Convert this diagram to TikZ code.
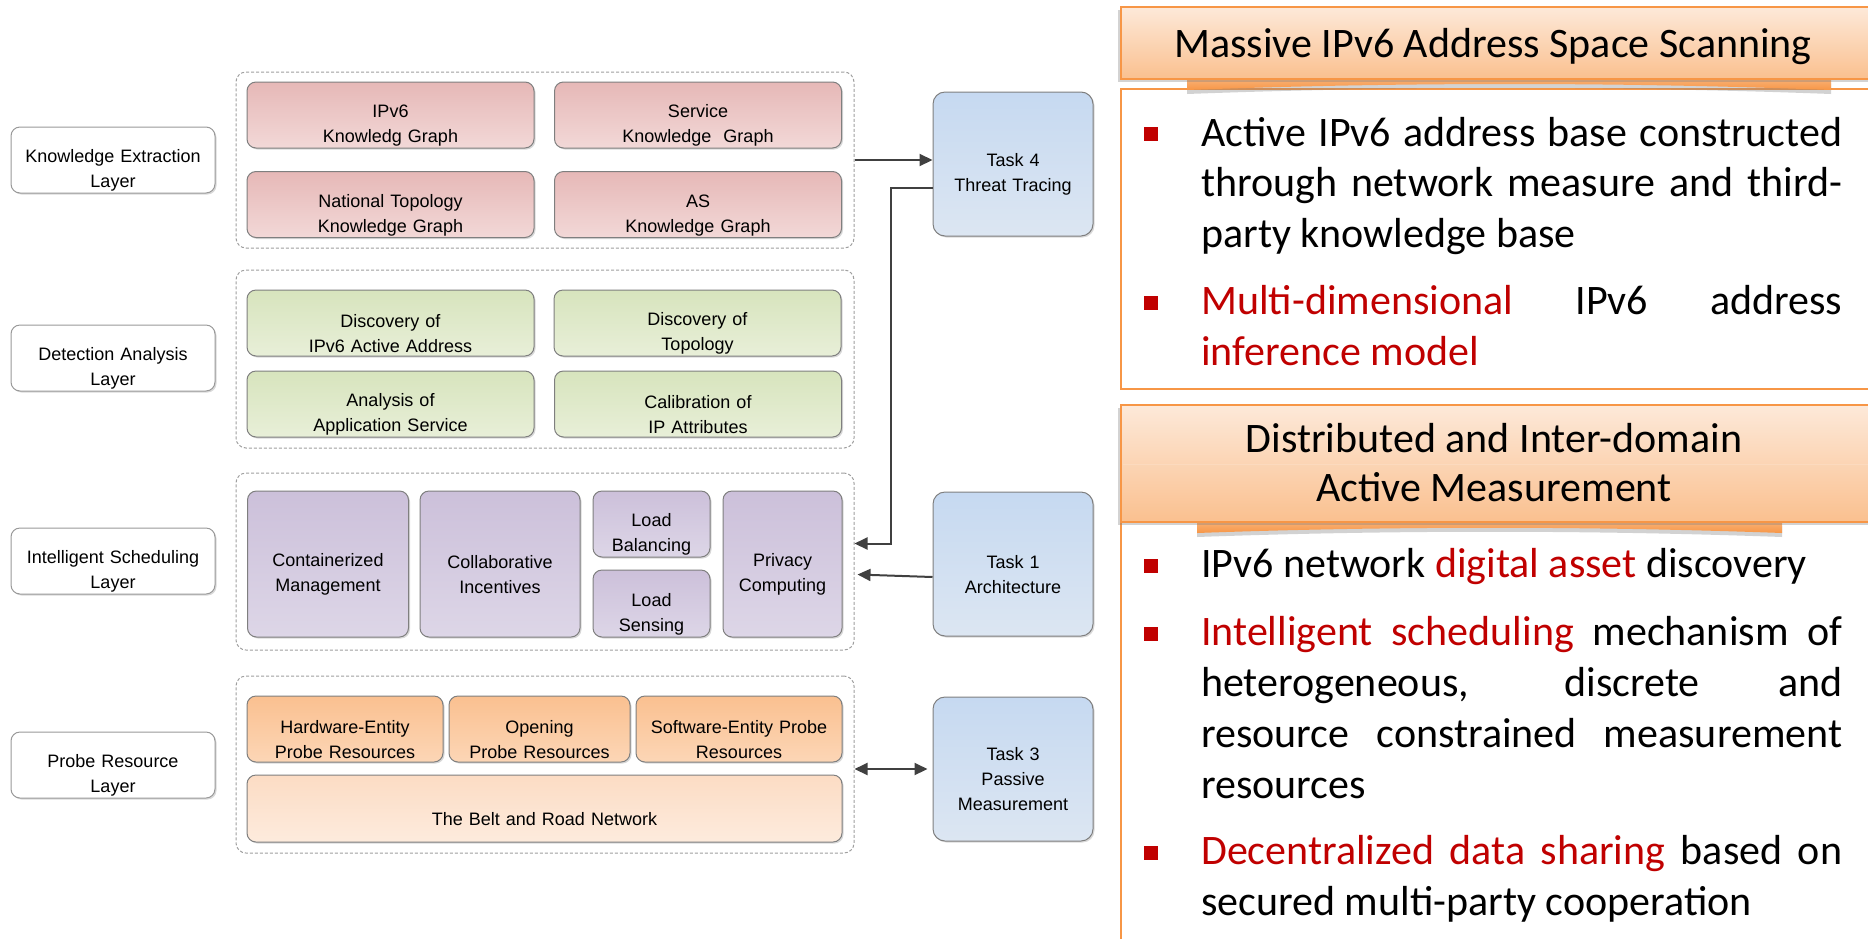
\documentclass[tikz,border=0pt]{standalone}
\usepackage{fontspec}
\setmainfont{Liberation Sans}
\newfontfamily\cfont{Carlito}
\usetikzlibrary{arrows.meta,shadows}

\definecolor{kgtop}{HTML}{E6B8B7}
\definecolor{kgbot}{HTML}{F2D8D7}
\definecolor{datop}{HTML}{D7E4BD}
\definecolor{dabot}{HTML}{E8EFD8}
\definecolor{istop}{HTML}{CCC0DA}
\definecolor{isbot}{HTML}{DDD6E7}
\definecolor{prtop}{HTML}{FAC090}
\definecolor{prbot}{HTML}{FCD6B6}
\definecolor{nettop}{HTML}{FCDCC4}
\definecolor{netbot}{HTML}{FDEBDD}
\definecolor{tktop}{HTML}{C6D9F1}
\definecolor{tkbot}{HTML}{DCE6F2}
\definecolor{edgegray}{HTML}{7F7F7F}
\definecolor{arrowgray}{HTML}{404040}
\definecolor{accent}{HTML}{F79646}
\definecolor{hdtop}{HTML}{FDE9D9}
\definecolor{hdbot}{HTML}{FAC08F}
\definecolor{hlred}{HTML}{C00000}

\newcommand{\hl}[1]{\textcolor{hlred}{#1}}
\newcommand{\fullline}[1]{\makebox[641pt][s]{#1}}

\tikzset{
  cell/.style={draw=edgegray, line width=1pt, rounded corners=9pt, align=center,
    font=\fontsize{18}{25}\selectfont, inner sep=0pt,
    execute at begin node={\rule{0pt}{34pt}},
    drop shadow={shadow xshift=1.5pt, shadow yshift=-1.5pt, opacity=0.3}},
  layerlabel/.style={cell, fill=white, draw=gray!80, text width=204pt, minimum height=66pt},
  frame/.style={draw=gray!75, dash pattern=on 3pt off 2pt, rounded corners=10pt,
    line width=1pt, fill=white, minimum width=618pt},
  half/.style={text width=287pt, minimum height=66pt},
  kg/.style={cell, half, top color=kgtop, bottom color=kgbot},
  da/.style={cell, half, top color=datop, bottom color=dabot},
  is/.style={cell, top color=istop, bottom color=isbot},
  pr/.style={cell, minimum height=66pt, top color=prtop, bottom color=prbot},
  task/.style={cell, rounded corners=12pt, text width=160pt, minimum height=144pt,
    top color=tktop, bottom color=tkbot},
  arr/.style={draw=arrowgray, line width=2pt, -{Triangle[length=13pt,width=12pt]}},
  biarr/.style={arr, {Triangle[length=13pt,width=12pt]}-{Triangle[length=13pt,width=12pt]}},
  headbar/.style={draw=accent, line width=2.5pt, top color=hdtop, bottom color=hdbot,
    drop shadow={shadow xshift=-3pt, shadow yshift=-3pt, opacity=0.35}},
  ribbon/.style={top color=accent!75, bottom color=accent,
    drop shadow={shadow xshift=0pt, shadow yshift=-4pt, opacity=0.35}},
  panel/.style={draw=accent, line width=2.5pt, fill=white},
  headtext/.style={font=\cfont\fontsize{42}{49}\selectfont, align=center, inner sep=0pt},
  bodyline/.style={font=\cfont\fontsize{42}{51}\selectfont, anchor=base west, inner sep=0pt},
  bullet/.style={fill=hlred, minimum size=14pt, inner sep=0pt}
}

\begin{document}
\begin{tikzpicture}[x=1pt,y=-1pt]
\useasboundingbox (0,0) rectangle (1868,938);
\clip (0,0) rectangle (1868,938);

% layer names
\node[layerlabel] (lke) at (113,160) {Knowledge Extraction\\Layer};
\node[layerlabel] (lda) at (113,358) {Detection Analysis\\Layer};
\node[layerlabel] (lis) at (113,561) {Intelligent Scheduling\\Layer};
\node[layerlabel] (lpr) at (113,765) {Probe Resource\\Layer};

% dashed frames
\node[frame, minimum height=176pt] (fke) at (545,160) {};
\node[frame, minimum height=178pt] (fda) at (545,359) {};
\node[frame, minimum height=177pt] (fis) at (545,561.5) {};
\node[frame, minimum height=177pt] (fpr) at (545,764.5) {};

% knowledge extraction layer
\node[kg] (ipkg) at (390.5,115) {IPv6\\Knowledg Graph};
\node[kg] (svkg) at (698,115) {Service\\Knowledge~~Graph};
\node[kg] (ntkg) at (390.5,204.5) {National Topology\\Knowledge Graph};
\node[kg] (askg) at (698,204.5) {AS\\Knowledge Graph};

% detection analysis layer
\node[da] (dipa) at (390.5,323) {Discovery of\\IPv6 Active Address};
\node[da] (dtop) at (697.5,323) {Discovery of\\Topology};
\node[da] (aapp) at (390.5,404) {Analysis of\\Application Service};
\node[da] (cipa) at (698,404) {Calibration of\\IP Attributes};

% intelligent scheduling layer
\node[is, text width=161pt, minimum height=146pt] (cman) at (328,564) {Containerized\\Management};
\node[is, text width=160pt, minimum height=146pt] (cinc) at (500,564) {Collaborative\\Incentives};
\node[is, text width=117pt, minimum height=66pt] (lbal) at (651.5,524) {Load\\Balancing};
\node[is, text width=117pt, minimum height=67pt] (lsen) at (651.5,603.5) {Load\\Sensing};
\node[is, text width=119pt, minimum height=146pt] (pcom) at (782.5,564) {Privacy\\Computing};

% probe resource layer
\node[pr, text width=196pt] (hwpr) at (345,729) {Hardware-Entity\\Probe Resources};
\node[pr, text width=181pt] (oppr) at (539.5,729) {Opening\\Probe Resources};
\node[pr, text width=206pt] (swpr) at (739,729) {Software-Entity Probe\\Resources};
\node[cell, text width=595pt, minimum height=67pt, top color=nettop, bottom color=netbot]
  (brnet) at (544.5,808.5) {The Belt and Road Network};

% tasks
\node[task] (t4) at (1013,164) {Task 4\\Threat Tracing};
\node[task] (t1) at (1013,564) {Task 1\\Architecture};
\node[task] (t3) at (1013,769) {Task 3\\Passive\\Measurement};

\draw[arr] (fke.east) -- (fke.east -| t4.west);
\draw[arr] ([yshift=-24pt]t4.west) -- ++(-42,0) |- ([yshift=18pt]fis.east);
\draw[arr] ([yshift=-13pt]t1.west) -- ([xshift=3pt,yshift=-13pt]fis.east);
\draw[biarr] (t3.west -| fpr.east) -- ([xshift=-5pt]t3.west);

% first panel
\draw[panel] (1121,89) rectangle (1885,389);
\shade[ribbon] (1187,79) -- (1831,79) -- (1831,90) .. controls (1620,82) and (1400,82) .. (1187,90) -- cycle;
\shade[headbar] (1121,7) rectangle (1885,79);
\node[headtext] (h1) at (1493,47) {Massive IPv6 Address Space Scanning};

\node[bullet] (b1) at (1151,134) {};
\node[bodyline] (s1a) at (1201,146) {\fullline{Active IPv6 address base constructed}};
\node[bodyline] (s1b) at (1201,196) {\fullline{through network measure and third-}};
\node[bodyline] (s1c) at (1201,247) {party knowledge base};
\node[bullet] (b2) at (1151,303) {};
\node[bodyline] (s2a) at (1201,314) {\fullline{\hl{Multi-dimensional} IPv6 address}};
\node[bodyline] (s2b) at (1201,365) {\hl{inference model}};

% second panel
\draw[panel] (1121,522) rectangle (1885,960);
\shade[ribbon] (1197,522) -- (1782,522) -- (1782,533) .. controls (1590,526) and (1390,526) .. (1197,533) -- cycle;
\shade[headbar] (1121,405) rectangle (1885,522);
\draw[accent!35, line width=0.8pt] (1122.5,464) -- (1885,464);
\node[headtext] (h2) at (1494,463) {Distributed and Inter-domain\\Active Measurement};

\node[bullet] (b3) at (1151,566) {};
\node[bodyline] (s3a) at (1201,577) {IPv6 network \hl{digital asset} discovery};
\node[bullet] (b4) at (1151,634) {};
\node[bodyline] (s4a) at (1201,645) {\fullline{\hl{Intelligent scheduling} mechanism of}};
\node[bodyline] (s4b) at (1201,696) {\fullline{heterogeneous, discrete and}};
\node[bodyline] (s4c) at (1201,747) {\fullline{resource constrained measurement}};
\node[bodyline] (s4d) at (1201,798) {resources};
\node[bullet] (b5) at (1151,853) {};
\node[bodyline] (s5a) at (1201,864) {\fullline{\hl{Decentralized data sharing} based on}};
\node[bodyline] (s5b) at (1201,915) {secured multi-party cooperation};
\end{tikzpicture}
\end{document}
